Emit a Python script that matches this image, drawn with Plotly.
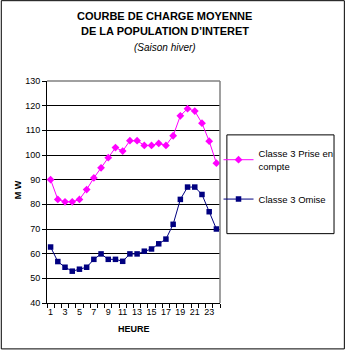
import plotly.graph_objects as go

heures = list(range(1, 25))
prise_en_compte = [90, 82, 81, 81, 82, 86, 90.7, 94.8, 98.9, 103, 101.6, 105.8,
                   105.8, 103.9, 103.9, 104.7, 103.9, 107.8, 115.9, 118.8, 117.8,
                   112.9, 105.6, 96.7]
omise = [62.7, 56.8, 54.5, 52.9, 53.7, 54.5, 57.7, 59.9, 57.7, 57.7, 56.9, 59.9,
         59.9, 61, 61.9, 64, 65.9, 71.9, 82, 87, 87, 84, 77, 70]
x_ticks = list(range(1, 24, 2))
y_ticks = list(range(40, 131, 10))

FONT = "Liberation Sans, Arial, sans-serif"

L, R, T, B = 47, 223, 81, 303.5
W, H = R - L, B - T
def px(x):
    return (x - L) / W
def py(y):
    return (B - y) / H

fig = go.Figure()
fig.add_trace(go.Scatter(
    x=heures, y=prise_en_compte, mode="lines+markers",
    name="Classe 3 Prise en<br>compte", legendgroup="a",
    line=dict(color="#FF00FF", width=1),
    marker=dict(symbol="diamond", size=6, color="#FF00FF"),
))
fig.add_trace(go.Scatter(
    x=heures, y=omise, mode="lines+markers",
    name="Classe 3 Omise", legendgroup="b",
    line=dict(color="#000080", width=1),
    marker=dict(symbol="square", size=5.5, color="#000080"),
))

fig.update_layout(
    width=351, height=351,
    margin=dict(l=L, r=351 - R, t=T, b=351 - B, pad=0),
    paper_bgcolor="white", plot_bgcolor="white",
    font=dict(family=FONT, size=9, color="black"),
    showlegend=True,
    legend=dict(
        x=px(221.5), y=py(141), xanchor="left", yanchor="top",
        font=dict(family=FONT, size=9.5, color="black"),
        bgcolor="rgba(0,0,0,0)", borderwidth=0,
        tracegroupgap=16, itemwidth=30,
    ),
    xaxis=dict(
        range=[0.5, 24.5], tickvals=x_ticks, ticktext=[str(v) for v in x_ticks],
        ticks="", showgrid=False, zeroline=False,
        showline=True, linecolor="black", linewidth=1,
        minor=dict(ticks="outside", tick0=0.5, dtick=1, ticklen=4,
                   tickcolor="black", showgrid=False),
        tickfont=dict(family=FONT, size=9, color="black"),
        fixedrange=True,
    ),
    yaxis=dict(
        range=[40, 130], tickvals=y_ticks, ticks="outside", ticklen=4,
        tickcolor="black", showgrid=True, gridcolor="black", gridwidth=1,
        zeroline=False, showline=True, linecolor="black", linewidth=1,
        tickfont=dict(family=FONT, size=9, color="black"),
        fixedrange=True,
    ),
    shapes=[
        dict(type="line", xref="paper", yref="paper", x0=0, x1=1, y0=1, y1=1,
             line=dict(color="#808080", width=1.5)),
        dict(type="line", xref="paper", yref="paper", x0=1, x1=1, y0=0, y1=1,
             line=dict(color="#808080", width=1.5)),
        dict(type="rect", xref="paper", yref="paper",
             x0=px(230), x1=px(339), y0=py(234), y1=py(135),
             line=dict(color="black", width=1)),
        dict(type="rect", xref="paper", yref="paper",
             x0=px(0.5), x1=px(349.5), y0=py(349.5), y1=py(0.5),
             line=dict(color="black", width=1)),
    ],
    annotations=[
        dict(text="<b>COURBE DE CHARGE MOYENNE</b>", xref="paper", yref="paper",
             x=px(167), y=py(16), showarrow=False, xanchor="center", yanchor="middle",
             font=dict(family=FONT, size=11, color="black")),
        dict(text="<b>DE LA POPULATION D’INTERET</b>", xref="paper", yref="paper",
             x=px(167), y=py(31), showarrow=False, xanchor="center", yanchor="middle",
             font=dict(family=FONT, size=11, color="black")),
        dict(text="<i>(Saison hiver)</i>", xref="paper", yref="paper",
             x=px(167), y=py(47), showarrow=False, xanchor="center", yanchor="middle",
             font=dict(family=FONT, size=10, color="black")),
        dict(text="<b>M W</b>", xref="paper", yref="paper", textangle=-90,
             x=px(17), y=py(190), showarrow=False, xanchor="center", yanchor="middle",
             font=dict(family=FONT, size=9, color="black")),
        dict(text="<b>HEURE</b>", xref="paper", yref="paper",
             x=px(136), y=py(330), showarrow=False, xanchor="center", yanchor="middle",
             font=dict(family=FONT, size=9, color="black")),
    ],
)

fig.write_html("out.html")
